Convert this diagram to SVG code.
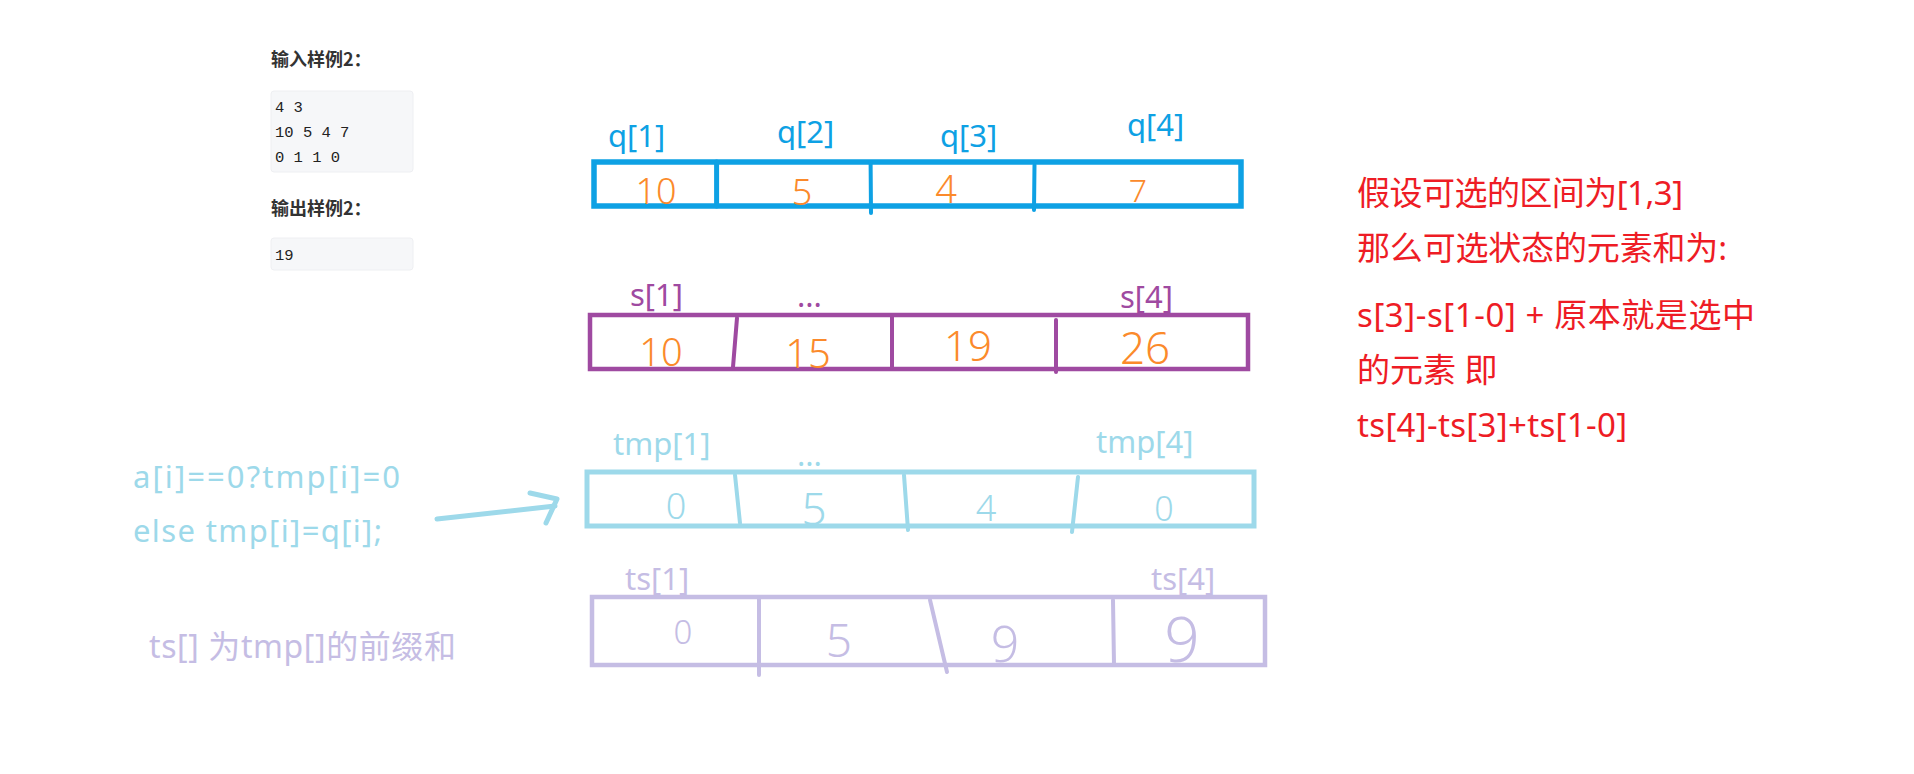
<svg xmlns="http://www.w3.org/2000/svg" width="1914" height="774" viewBox="0 0 1914 774">
<style>
.lbl{font-family:"Noto Sans","Open Sans","Noto Sans CJK SC",sans-serif;font-size:31px}
.hd{font-family:"Noto Sans CJK SC","Noto Sans",sans-serif;font-size:18px;font-weight:bold;fill:#333}
.mono{font-family:"Liberation Mono","DejaVu Sans Mono",monospace;font-size:15.5px;fill:#222}
.box{fill:#f6f7f9;stroke:#eeeff2;stroke-width:1}
.dig{font-family:"Noto Sans","Liberation Sans",sans-serif;text-anchor:middle;font-weight:300}
.red{font-family:"Noto Sans","Noto Sans CJK SC",sans-serif;font-size:33px;fill:#ee1c25}
.q{stroke:#0ea1e4}
.s{stroke:#9f4aa1}
.t{stroke:#9dd9ea}
.ts{stroke:#c5bde4}
.ln{stroke-linecap:round;fill:none}
</style>

<g id="sample">
  <text class="hd" x="271" y="66">输入样例2：</text>
  <rect class="box" x="271" y="91" width="142" height="81" rx="3"/>
  <text class="mono" x="275" y="112">4 3</text>
  <text class="mono" x="275" y="137">10 5 4 7</text>
  <text class="mono" x="275" y="162">0 1 1 0</text>
  <text class="hd" x="271" y="215">输出样例2：</text>
  <rect class="box" x="271" y="238" width="142" height="32" rx="3"/>
  <text class="mono" x="275" y="260">19</text>
</g>

<g id="q-array">
  <text class="lbl" x="608" y="147" fill="#0ea1e4">q[1]</text>
  <text class="lbl" x="777" y="143" fill="#0ea1e4">q[2]</text>
  <text class="lbl" x="940" y="147" fill="#0ea1e4">q[3]</text>
  <text class="lbl" x="1127" y="136" fill="#0ea1e4">q[4]</text>
  <rect x="594" y="162" width="647" height="44" fill="none" class="q" stroke-width="5.5"/>
  <line class="q ln" x1="716.6" y1="162" x2="716.6" y2="206" stroke-width="5"/>
  <line class="q ln" x1="870.6" y1="162" x2="871" y2="213" stroke-width="4"/>
  <line class="q ln" x1="1034.5" y1="165" x2="1034" y2="210" stroke-width="4"/>
  <g fill="#fb8a2b">
    <text class="dig" x="656" y="204" font-size="36">10</text>
    <text class="dig" x="802" y="205" font-size="36">5</text>
    <text class="dig" x="946" y="203" font-size="38">4</text>
    <text class="dig" x="1138" y="202" font-size="32">7</text>
  </g>
</g>

<g id="s-array">
  <text class="lbl" x="630" y="306" fill="#9f4aa1">s[1]</text>
  <text class="lbl" x="797" y="307" fill="#9f4aa1" font-size="26">...</text>
  <text class="lbl" x="1120" y="308" fill="#9f4aa1">s[4]</text>
  <rect x="590" y="315" width="658" height="54" fill="none" class="s" stroke-width="4.5"/>
  <line class="s ln" x1="737" y1="318" x2="733" y2="367" stroke-width="4"/>
  <line class="s ln" x1="892" y1="317" x2="892" y2="368" stroke-width="4"/>
  <line class="s ln" x1="1056" y1="320" x2="1056" y2="372" stroke-width="4"/>
  <g fill="#fb8a2b">
    <text class="dig" x="661" y="366" font-size="38">10</text>
    <text class="dig" x="808" y="368" font-size="40">15</text>
    <text class="dig" x="968" y="361" font-size="42">19</text>
    <text class="dig" x="1145" y="364" font-size="44">26</text>
  </g>
</g>

<g id="tmp-array">
  <text class="lbl" x="613" y="455" fill="#9dd9ea">tmp[1]</text>
  <text class="lbl" x="797" y="466" fill="#9dd9ea" font-size="26">...</text>
  <text class="lbl" x="1096" y="453" fill="#9dd9ea">tmp[4]</text>
  <rect x="587" y="472" width="667" height="54" fill="none" class="t" stroke-width="5"/>
  <line class="t ln" x1="735" y1="475" x2="740" y2="523" stroke-width="4"/>
  <line class="t ln" x1="904" y1="475" x2="908" y2="530" stroke-width="4"/>
  <line class="t ln" x1="1078" y1="477" x2="1072" y2="532" stroke-width="4"/>
  <g fill="#9dd9ea">
    <text class="dig" x="676" y="519" font-size="36">0</text>
    <text class="dig" x="814" y="525" font-size="44">5</text>
    <text class="dig" x="986" y="521" font-size="36">4</text>
    <text class="dig" x="1164" y="521" font-size="34">0</text>
  </g>
</g>

<g id="ts-array">
  <text class="lbl" x="625" y="590" fill="#c5bde4">ts[1]</text>
  <text class="lbl" x="1151" y="590" fill="#c5bde4">ts[4]</text>
  <rect x="592" y="597" width="673" height="68" fill="none" class="ts" stroke-width="4.5"/>
  <line class="ts ln" x1="759" y1="598" x2="759" y2="675" stroke-width="4"/>
  <line class="ts ln" x1="930" y1="600" x2="947" y2="672" stroke-width="4"/>
  <line class="ts ln" x1="1113" y1="600" x2="1114" y2="665" stroke-width="4"/>
  <g fill="#c5bde4">
    <text class="dig" x="683" y="644" font-size="33">0</text>
    <text class="dig" x="839" y="657" font-size="46">5</text>
    <text class="dig" x="1005" y="662" font-size="50">9</text>
    <text class="dig" x="1182" y="662" font-size="62">9</text>
  </g>
</g>

<g id="tmp-rule">
  <text class="lbl" x="133" y="488" fill="#9dd9ea" font-size="34" textLength="267" lengthAdjust="spacing">a[i]==0?tmp[i]=0</text>
  <text class="lbl" x="133" y="542" fill="#9dd9ea" font-size="34" textLength="249" lengthAdjust="spacing">else tmp[i]=q[i];</text>
</g>

<g id="ts-note">
  <text x="149" y="658" fill="#c5bde4" style="font-family:'Noto Sans','Noto Sans CJK SC',sans-serif;font-size:32px" textLength="307" lengthAdjust="spacing">ts[] 为tmp[]的前缀和</text>
</g>

<g id="explanation">
  <text class="red" x="1357" y="205" textLength="326" lengthAdjust="spacing">假设可选的区间为[1,3]</text>
  <text class="red" x="1357" y="260" textLength="370" lengthAdjust="spacing">那么可选状态的元素和为:</text>
  <text class="red" x="1357" y="327" textLength="398" lengthAdjust="spacing">s[3]-s[1-0]  + 原本就是选中</text>
  <text class="red" x="1357" y="382">的元素 即</text>
  <text class="red" x="1357" y="437" textLength="270" lengthAdjust="spacing">ts[4]-ts[3]+ts[1-0]</text>
</g>

<g id="connectors">
  <path class="t ln" d="M437 519 L555 506" stroke-width="5"/>
  <path class="t ln" d="M530 493 L557 499 L546 523" stroke-width="5" stroke-linejoin="round"/>
</g>
</svg>
